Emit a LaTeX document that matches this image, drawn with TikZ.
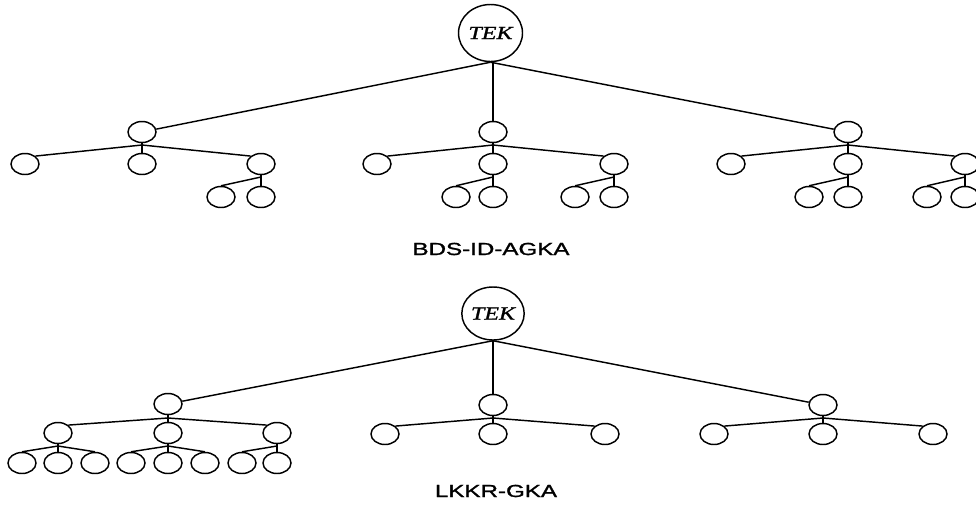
\documentclass[tikz,border=0pt]{standalone}
\usepackage{fontspec}
\setmainfont{Liberation Serif}
\newfontfamily\lblfont[FakeBold=1.2]{Liberation Sans}
\newfontfamily\tekfont[FakeBold=1]{Liberation Serif}
\usetikzlibrary{shapes.geometric}
\newcommand{\wide}[2]{\scalebox{#1}[1]{#2}}
\begin{document}
\begin{tikzpicture}[x=1pt,y=-1pt,
  nd/.style={draw,ellipse,minimum width=28pt,minimum height=21pt,inner sep=0pt,line width=1.45pt},
  rootnd/.style={draw,ellipse,minimum width=64pt,minimum height=57pt,inner sep=0pt,line width=1.45pt,font=\tekfont\fontsize{18.5}{18.5}\selectfont\itshape},
  lbl/.style={font=\lblfont\fontsize{17.5}{17.5}\selectfont,inner sep=0pt},
  edge/.style={line width=1.45pt}]
\clip (0,0) rectangle (976,507);
% ---------- top tree ----------
\node[rootnd] (T) at (490.5,33) {\wide{1.3}{TEK}};
\node[nd] (A1) at (142,132) {};
\node[nd] (A2) at (493,132) {};
\node[nd] (A3) at (848,132) {};
\node[nd] (A1a) at (25,164) {};
\node[nd] (A1b) at (142,164) {};
\node[nd] (A1c) at (261,164) {};
\node[nd] (A1c1) at (221,197) {};
\node[nd] (A1c2) at (261,197) {};
\node[nd] (A2a) at (377,164) {};
\node[nd] (A2b) at (493,164) {};
\node[nd] (A2c) at (614,164) {};
\node[nd] (A2b1) at (456,197) {};
\node[nd] (A2b2) at (493,197) {};
\node[nd] (A2c1) at (575,197) {};
\node[nd] (A2c2) at (614,197) {};
\node[nd] (A3a) at (731,164) {};
\node[nd] (A3b) at (848,164) {};
\node[nd] (A3c) at (965,164) {};
\node[nd] (A3b1) at (809,197) {};
\node[nd] (A3b2) at (848,197) {};
\node[nd] (A3c1) at (927,197) {};
\node[nd] (A3c2) at (965,197) {};
\coordinate (jA1) at (142,145);
\coordinate (jA2) at (493,145);
\coordinate (jA3) at (848,145);
\coordinate (jA1c) at (261,177);
\coordinate (jA2b) at (493,177);
\coordinate (jA2c) at (614,177);
\coordinate (jA3b) at (848,177);
\coordinate (jA3c) at (965,177);
\draw[edge] (T.south) -- (A1);
\draw[edge] (A2 |- T.south) -- (A2.north);
\draw[edge] (T.south) -- (A3);
\foreach \p in {A1,A2,A3}{
  \draw[edge] (\p.south) -- (j\p) -- (\p b.north);
  \draw[edge] (j\p) -- (\p a.north east);
  \draw[edge] (j\p) -- (\p c.north west);
}
\foreach \p in {A1c,A2b,A2c,A3b,A3c}{
  \draw[edge] (\p.south) -- (j\p) -- (\p 2.north);
  \draw[edge] (j\p) -- (\p 1.north);
}
\node[lbl] (cap1) at (491,249) {\wide{1.38}{BDS-ID-AGKA}};
% ---------- bottom tree ----------
\node[rootnd,minimum width=62pt,minimum height=53pt] (R) at (493,313.5) {\wide{1.3}{TEK}};
\node[nd] (B1) at (168,404) {};
\node[nd] (B2) at (493,405) {};
\node[nd] (B3) at (823,405) {};
\node[nd] (B1a) at (58,433) {};
\node[nd] (B1b) at (168,433) {};
\node[nd] (B1c) at (277,433) {};
\node[nd] (B1a1) at (22,463) {};
\node[nd] (B1a2) at (58,463) {};
\node[nd] (B1a3) at (95,463) {};
\node[nd] (B1b1) at (131,463) {};
\node[nd] (B1b2) at (168,463) {};
\node[nd] (B1b3) at (205,463) {};
\node[nd] (B1c1) at (242,463) {};
\node[nd] (B1c2) at (277,463) {};
\node[nd] (B2a) at (385,434) {};
\node[nd] (B2b) at (493,434) {};
\node[nd] (B2c) at (605,434) {};
\node[nd] (B3a) at (714,434) {};
\node[nd] (B3b) at (823,434) {};
\node[nd] (B3c) at (933,434) {};
\coordinate (jB1) at (168,418);
\coordinate (jB2) at (493,418);
\coordinate (jB3) at (823,418);
\coordinate (jB1a) at (58,446);
\coordinate (jB1b) at (168,446);
\coordinate (jB1c) at (277,446);
\draw[edge] (R.south) -- (B1);
\draw[edge] (B2 |- R.south) -- (B2.north);
\draw[edge] (R.south) -- (B3);
\foreach \p in {B1,B2,B3}{
  \draw[edge] (\p.south) -- (j\p) -- (\p b.north);
  \draw[edge] (j\p) -- (\p a.north east);
  \draw[edge] (j\p) -- (\p c.north west);
}
\foreach \p in {B1a,B1b}{
  \draw[edge] (\p.south) -- (j\p) -- (\p 2.north);
  \draw[edge] (j\p) -- (\p 1.north);
  \draw[edge] (j\p) -- (\p 3.north);
}
\draw[edge] (B1c.south) -- (jB1c) -- (B1c2.north);
\draw[edge] (jB1c) -- (B1c1.north);
\node[lbl] (cap2) at (496,491) {\wide{1.38}{LKKR-GKA}};
\end{tikzpicture}
\end{document}
